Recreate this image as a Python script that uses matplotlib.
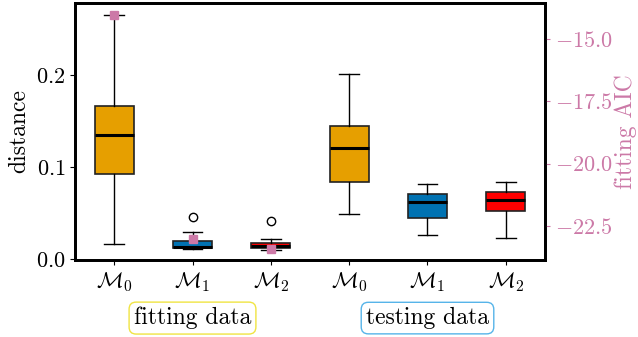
import matplotlib
matplotlib.use("Agg")
import matplotlib.pyplot as plt
import matplotlib.transforms as mtransforms

plt.rcParams['font.family'] = ['cmr10', 'DejaVu Serif']
plt.rcParams['mathtext.fontset'] = 'cm'
plt.rcParams['axes.formatter.use_mathtext'] = True
plt.rcParams['font.size'] = 16

# ---- data ----
tick_labels = [r'$\mathcal{M}_0$', r'$\mathcal{M}_1$', r'$\mathcal{M}_2$',
               r'$\mathcal{M}_0$', r'$\mathcal{M}_1$', r'$\mathcal{M}_2$']
whislo = [0.0166, 0.0110, 0.0098, 0.0486, 0.0258, 0.0232]
q1 = [0.0920, 0.0116, 0.0116, 0.0840, 0.0446, 0.0520]
med = [0.1350, 0.0130, 0.0145, 0.1210, 0.0616, 0.0645]
q3 = [0.1660, 0.0199, 0.0171, 0.1446, 0.0710, 0.0725]
whishi = [0.2650, 0.0290, 0.0220, 0.2004, 0.0812, 0.0837]
fliers = [[], [0.0457], [0.0413], [], [], []]
box_colors = ['#E69F00', '#0072B2', '#FF0000', '#E69F00', '#0072B2', '#FF0000']
aic_positions = [1, 2, 3]
aic_values = [-14.02, -23.04, -23.45]
group_labels = ['fitting data', 'testing data']
group_centers = [2, 5]
group_edge = ['#F0E442', '#56B4E9']
pink = '#CC79A7'

fig = plt.figure(figsize=(6.38, 3.37), dpi=100)
ax = fig.add_axes([75/638, 1-260/337, 470/638, 257/337])

stats = []
for i in range(6):
    stats.append(dict(whislo=whislo[i], q1=q1[i], med=med[i], q3=q3[i],
                      whishi=whishi[i], fliers=fliers[i]))
positions = list(range(1, 7))
bp = ax.bxp(stats, positions=positions, widths=0.5, patch_artist=True,
            showfliers=True,
            boxprops=dict(edgecolor='#222222', linewidth=1.2),
            medianprops=dict(color='black', linewidth=2.2),
            whiskerprops=dict(color='black', linewidth=1.0),
            capprops=dict(color='black', linewidth=1.0),
            flierprops=dict(marker='o', markerfacecolor='white',
                            markeredgecolor='black', markersize=6,
                            markeredgewidth=1.0))
for patch, c in zip(bp['boxes'], box_colors):
    patch.set_facecolor(c)

ax.set_xlim(0.5, 6.5)
ax.set_ylim(-0.001, 0.278)
ax.set_xticks(positions)
ax.set_xticklabels(tick_labels)
ax.set_yticks([0.0, 0.1, 0.2])
ax.set_ylabel('distance', fontsize=17)
ax.yaxis.set_label_coords(-0.118, 0.5)
ax.yaxis.label.set_verticalalignment('center')
for s in ax.spines.values():
    s.set_linewidth(2.0)
ax.tick_params(length=3.5, width=0.8)

ax2 = ax.twinx()
ax2.plot(aic_positions, aic_values, linestyle='none', marker='s',
         color=pink, markersize=6)
ax2.set_ylim(-23.88, -13.54)
ax2.set_yticks([-15.0, -17.5, -20.0, -22.5])
ax2.set_yticklabels([r'$-15.0$', r'$-17.5$', r'$-20.0$', r'$-22.5$'])
ax2.tick_params(axis='y', colors=pink, length=3.5, width=0.8)
ax2.set_ylabel('fitting AIC', color=pink, fontsize=17)
ax2.yaxis.set_label_coords(1.172, 0.5)
ax2.yaxis.label.set_verticalalignment('center')
for s in ax2.spines.values():
    s.set_linewidth(2.0)

trans = mtransforms.blended_transform_factory(ax.transData, ax.transAxes)
for lab, xc, ec in zip(group_labels, group_centers, group_edge):
    ax.text(xc, -0.226, lab, transform=trans, ha='center', va='center',
            fontsize=17,
            bbox=dict(boxstyle='round,pad=0.2,rounding_size=0.3',
                      facecolor='white', edgecolor=ec, linewidth=1.0))

fig.savefig('out.png', dpi=100)
